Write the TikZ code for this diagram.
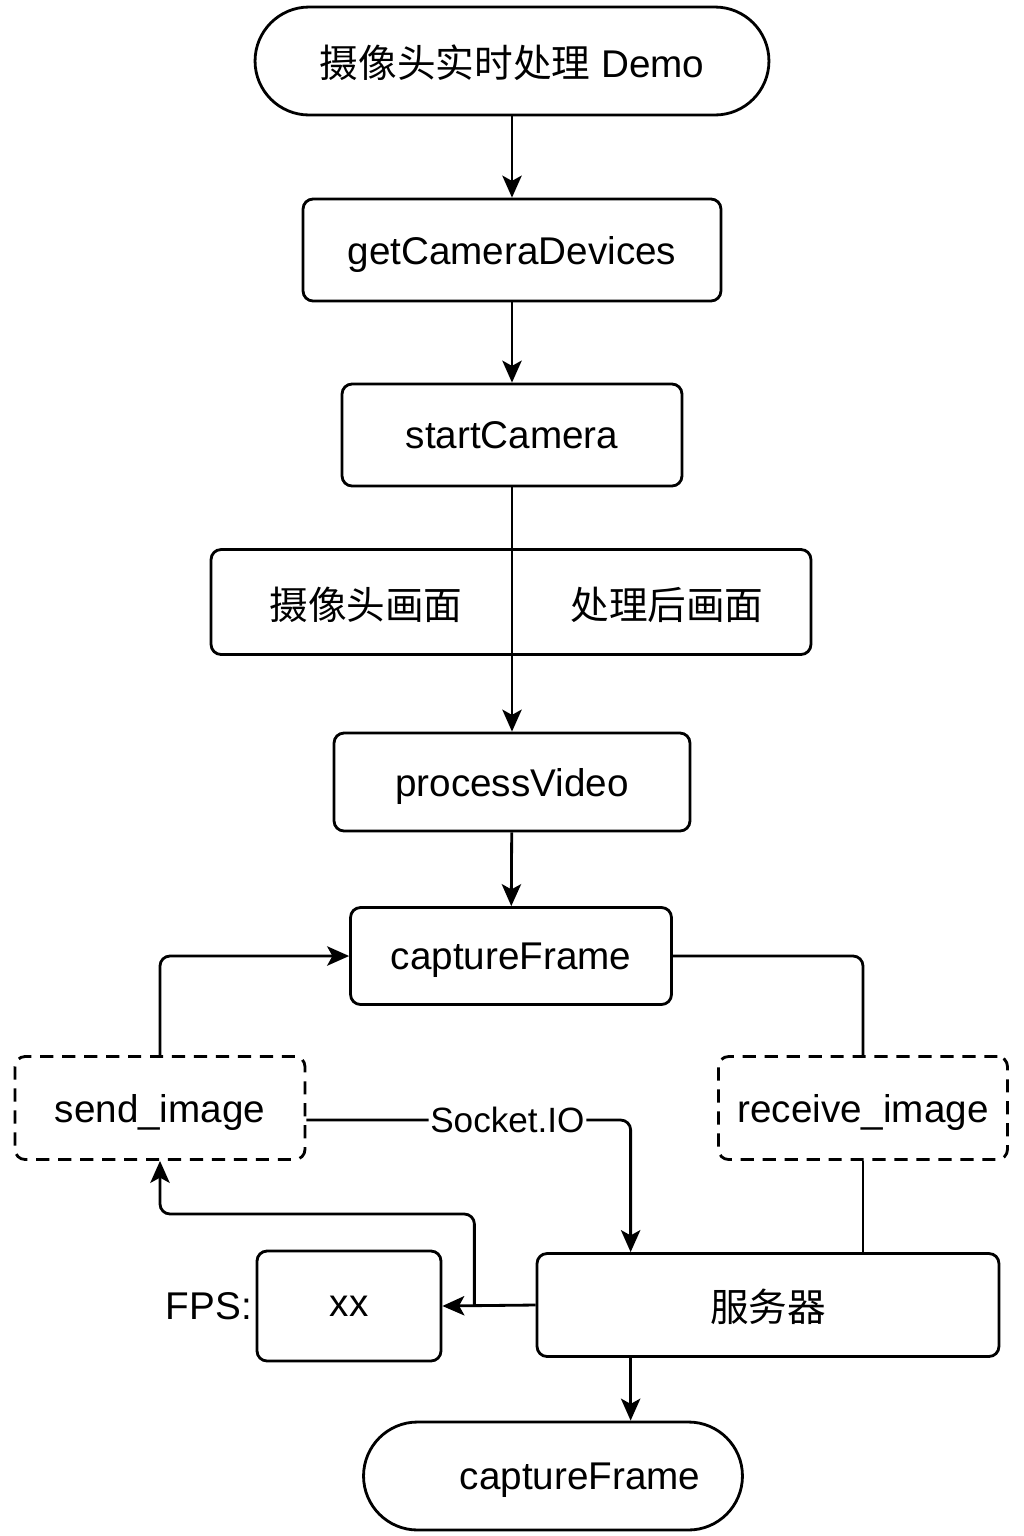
\documentclass[tikz,border=0pt]{standalone}
\usepackage{fontspec}
\setmainfont{Liberation Sans}
\newfontfamily\cjk{Noto Sans CJK SC}
\usetikzlibrary{arrows.meta,positioning,calc}
\tikzset{
  box/.style={draw,line width=1.6pt,rounded corners=0.2cm,inner sep=0pt,text depth=0pt},
  term/.style={box,rounded corners=1.08cm},
  dbox/.style={box,dash pattern=on 7.5pt off 5pt},
  conn/.style={line width=1.6pt,rounded corners=0.2cm},
  arr/.style={conn,-{Stealth[length=12.5pt,width=11pt,inset=3pt]}},
}
\begin{document}
\begin{tikzpicture}[x=0.02cm,y=-0.02cm,font=\fontsize{22}{26}\selectfont]
\useasboundingbox (0,0) rectangle (1024,1536);
%main column
\node[term,minimum width=10.28cm,minimum height=2.16cm](start)at(512,61){{\cjk 摄像头实时处理} Demo};
\node[box,minimum width=8.36cm,minimum height=2.04cm](devices)at(512,250){getCameraDevices};
\node[box,minimum width=6.8cm,minimum height=2.04cm](camera)at(512,435){startCamera};
\node[box,minimum width=12cm,minimum height=2.1cm](views)at(511,602){};
\node[font=\fontsize{22}{26}\cjk](raw)at(366,605){摄像头画面};
\node[font=\fontsize{22}{26}\cjk](done)at(667,605){处理后画面};
\node[box,minimum width=7.12cm,minimum height=1.96cm](video)at(512,782){processVideo};
\node[box,minimum width=6.42cm,minimum height=1.94cm](frame)at(511,956){captureFrame};
%socket part
\node[dbox,minimum width=5.8cm,minimum height=2.06cm](send)at(160,1108){send\_image};
\node[dbox,minimum width=5.78cm,minimum height=2.06cm](recv)at(863,1108){receive\_image};
\node[box,minimum width=9.24cm,minimum height=2.06cm](server)at(768,1305){{\cjk 服务器}};
\node[box,minimum width=3.68cm,minimum height=2.2cm](fps)at(349,1306){xx};
\node[left=2pt of fps,inner sep=0pt](fpslabel){FPS:};
\node[term,minimum width=7.58cm,minimum height=2.16cm](stop)at(553,1476){\hspace*{1.08cm}captureFrame};
%connectors
\draw[arr](start)--(devices);
\draw[arr](devices)--(camera);
\draw[arr](camera)--(video);
\draw[arr](video)--(frame);
\draw[arr](send.north)|-(frame.west);
\draw[conn](frame.east)-|(recv.north);
\draw[conn](recv.south)--(recv.south|-server.north);
\draw[arr](send.east)++(0,12)-|node[pos=.31,fill=white,inner sep=1pt,font=\fontsize{20}{24}\selectfont](sio){Socket.IO}($(server.north west)+(95,0)$);
\coordinate(fork)at($(fps.east)+(32,0)$);
\draw[arr](server.west)--(fps.east);
\draw[arr](fork)--++(0,-92)-|(send.south);
\draw[arr]($(server.south west)+(95,0)$)coordinate(out)--(out|-stop.north);
\end{tikzpicture}
\end{document}
